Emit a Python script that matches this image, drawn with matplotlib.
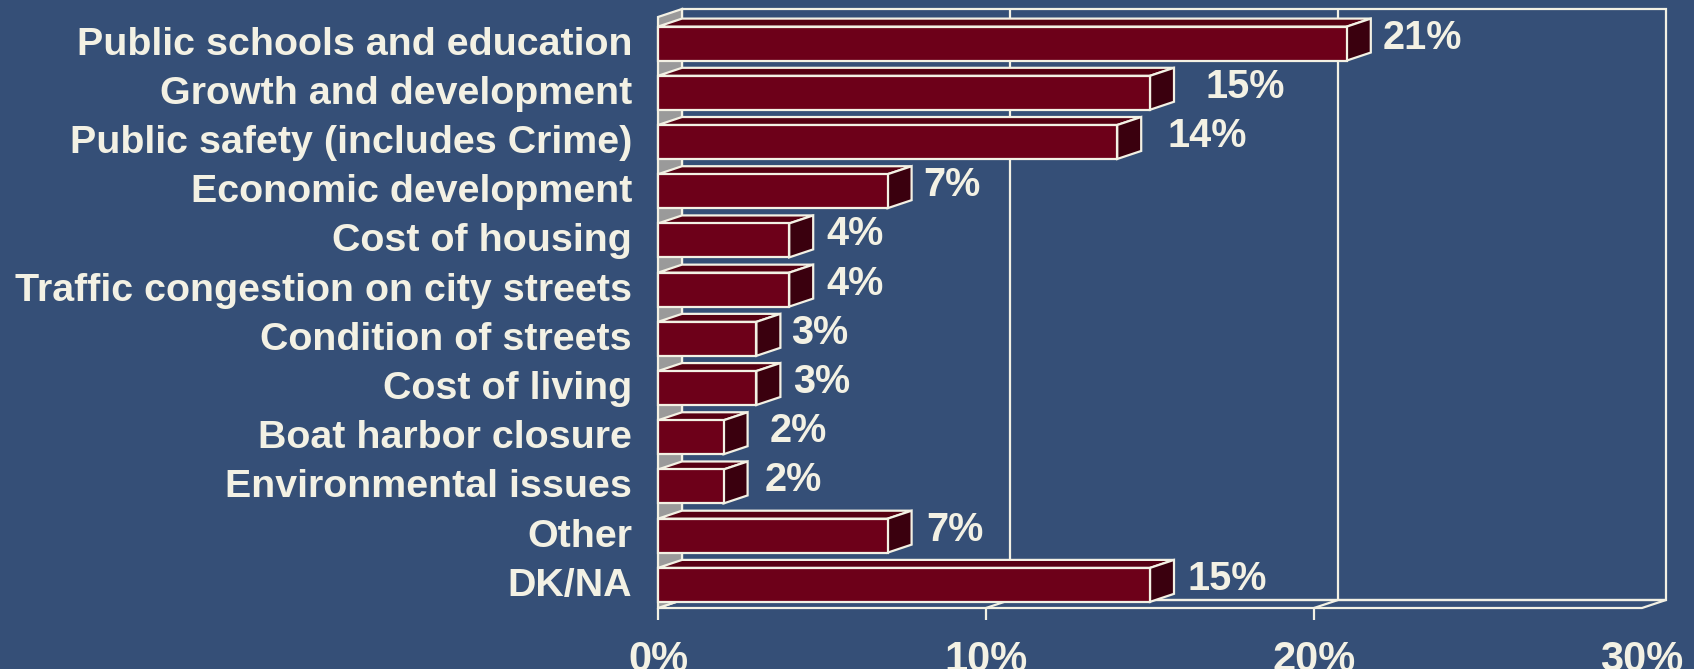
import matplotlib

matplotlib.use("Agg")
import matplotlib.pyplot as plt
from matplotlib.patches import Polygon
from matplotlib.transforms import offset_copy

categories = [
    "Public schools and education",
    "Growth and development",
    "Public safety (includes Crime)",
    "Economic development",
    "Cost of housing",
    "Traffic congestion on city streets",
    "Condition of streets",
    "Cost of living",
    "Boat harbor closure",
    "Environmental issues",
    "Other",
    "DK/NA",
]
values = [21, 15, 14, 7, 4, 4, 3, 3, 2, 2, 7, 15]
x_ticks = [0, 10, 20, 30]
x_tick_labels = ["0%", "10%", "20%", "30%"]

# horizontal gap (px) between bar end and its value label, as placed in the original
label_gap = [36, 55, 50, 36, 37, 37, 35, 37, 46, 41, 39, 37]

BG = "#354f77"
LINE = "#f3f1e4"
FRONT = "#6d0019"
TOP = "#560012"
SIDE = "#3a000e"
WALL = "#9a9a9a"
FONT = "Liberation Sans"

W, H, DPI = 1694, 669, 100
fig = plt.figure(figsize=(W / DPI, H / DPI), dpi=DPI, facecolor=BG)
# front plane of the 3d box, in pixels: x 658..1642, y 17..608
ax = fig.add_axes([658 / W, 1 - 608 / H, 984 / W, (608 - 17) / H])
ax.set_facecolor("none")
y_floor, y_top = 11.47, -0.54
ax.set_xlim(0, 30)
ax.set_ylim(y_floor, y_top)
for s in ax.spines.values():
    s.set_visible(False)

# depth offset converted from pixels to data units
px_x = ax.bbox.width / 30.0
px_y = ax.bbox.height / (y_floor - y_top)
dx = 24 / px_x
dy = -8 / px_y
lw = 1.6


def poly(pts, fc, z):
    ax.add_patch(Polygon(pts, closed=True, facecolor=fc, edgecolor=LINE,
                         linewidth=lw, joinstyle="miter", zorder=z, clip_on=False))


def line(xs, ys, z=1):
    ax.plot(xs, ys, color=LINE, lw=lw, zorder=z, clip_on=False, solid_capstyle="butt")


# back wall, gridlines, floor, left wall
poly([(dx, y_top + dy), (30 + dx, y_top + dy), (30 + dx, y_floor + dy), (dx, y_floor + dy)], "none", 1)
for t in x_ticks[1:-1]:
    line([t + dx, t + dx], [y_floor + dy, y_top + dy])
    line([t, t + dx], [y_floor, y_floor + dy])
poly([(0, y_floor), (30, y_floor), (30 + dx, y_floor + dy), (dx, y_floor + dy)], "none", 1)
poly([(0, y_top), (dx, y_top + dy), (dx, y_floor + dy), (0, y_floor)], WALL, 2)

# tick marks below the floor
for t in x_ticks[:-1]:
    line([t, t], [y_floor, y_floor + 12 / px_y])

h = 0.69
cat_tr = offset_copy(ax.transData, fig=fig, x=-26, y=-1, units="dots")
for i, v in enumerate(values):
    t0, b0 = i - h / 2, i + h / 2
    poly([(0, t0), (v, t0), (v + dx, t0 + dy), (dx, t0 + dy)], TOP, 3)
    poly([(v, t0), (v + dx, t0 + dy), (v + dx, b0 + dy), (v, b0)], SIDE, 3)
    poly([(0, t0), (v, t0), (v, b0), (0, b0)], FRONT, 3)
    tr = offset_copy(ax.transData, fig=fig, x=label_gap[i], y=6, units="dots")
    ax.text(v, i, f"{v}%", transform=tr, ha="left", va="center", fontsize=28.5,
            fontweight="bold", color=LINE, family=FONT, zorder=5)
    ax.text(0, i, categories[i], transform=cat_tr, ha="right", va="center", fontsize=28.4,
            fontweight="bold", color=LINE, family=FONT, clip_on=False)

ax.set_yticks([])
ax.set_xticks(x_ticks)
ax.set_xticklabels(x_tick_labels, fontsize=30, fontweight="bold", color=LINE, family=FONT)
ax.tick_params(axis="x", length=0, pad=23)

fig.savefig("out.png", dpi=DPI, facecolor=BG)
